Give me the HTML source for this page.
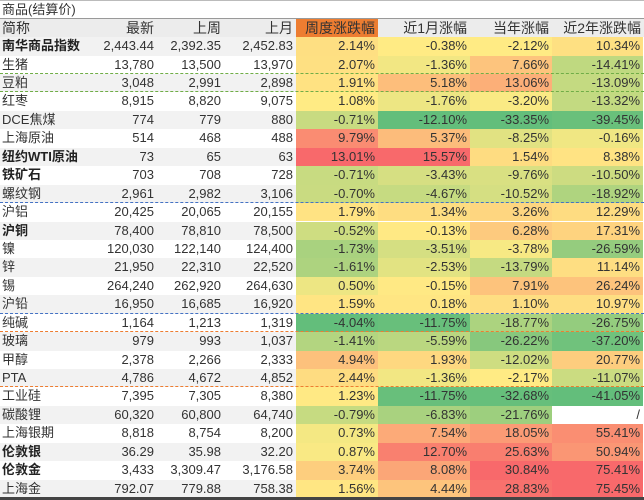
<!DOCTYPE html>
<html><head><meta charset="utf-8">
<style>
html,body{margin:0;padding:0;background:#fff;}
body{width:644px;height:500px;overflow:hidden;position:relative;font-family:"Liberation Sans","Noto Sans CJK SC",sans-serif;color:#333;}
#title{position:absolute;left:0;top:0;width:644px;height:19px;border-top:1px solid #bbb;border-bottom:1px solid #999;font-size:13px;line-height:18px;padding-left:2px;box-sizing:border-box;}
.row{position:absolute;left:0;width:644px;}
.c{position:absolute;top:0;height:100%;box-sizing:border-box;padding-right:3px;text-align:right;white-space:nowrap;font-size:13px;}
.hdr .c{font-size:14px;}
.nm{text-align:left;padding-left:2px;}
.sep{position:absolute;left:0;width:644px;height:0;border-top:1.5px dashed;}
#bottom{position:absolute;left:0;top:497px;width:644px;height:3px;background:#444;}
</style></head><body>
<div id="title">商品(结算价)</div>
<div id="tbl"></div>
<div id="bottom"></div>
<script>
const names=["南华商品指数","生猪","豆粕","红枣","DCE焦煤","上海原油","纽约WTI原油","铁矿石","螺纹钢","沪铝","沪铜","镍","锌","锡","沪铅","纯碱","玻璃","甲醇","PTA","工业硅","碳酸锂","上海银期","伦敦银","伦敦金","上海金"];
const boldRows=[0,6,7,10,22,23];
const latest=["2,443.44","13,780","3,048","8,915","774","514","73","703","2,961","20,425","78,400","120,030","21,950","264,240","16,950","1,164","979","2,378","4,786","7,395","60,320","8,818","36.29","3,433","792.07"];
const lastWeek=["2,392.35","13,500","2,991","8,820","779","468","65","708","2,982","20,065","78,810","122,140","22,310","262,920","16,685","1,213","993","2,266","4,672","7,305","60,800","8,754","35.98","3,309.47","779.88"];
const lastMonth=["2,452.83","13,970","2,898","9,075","880","488","63","728","3,106","20,155","78,500","124,400","22,520","264,630","16,920","1,319","1,037","2,333","4,852","8,380","64,740","8,200","32.20","3,176.58","758.38"];
const weekChg=[2.14,2.07,1.91,1.08,-0.71,9.79,13.01,-0.71,-0.70,1.79,-0.52,-1.73,-1.61,0.50,1.59,-4.04,-1.41,4.94,2.44,1.23,-0.79,0.73,0.87,3.74,1.56];
const monthChg=[-0.38,-1.36,5.18,-1.76,-12.10,5.37,15.57,-3.43,-4.67,1.34,-0.13,-3.51,-2.53,-0.15,0.18,-11.75,-5.59,1.93,-1.36,-11.75,-6.83,7.54,12.70,8.08,4.44];
const ytdChg=[-2.12,7.66,13.06,-3.20,-33.35,-8.25,1.54,-9.76,-10.52,3.26,6.28,-3.78,-13.79,7.91,1.10,-18.77,-26.22,-12.02,-2.17,-32.68,-21.76,18.05,25.63,30.84,28.83];
const twoYrChg=[10.34,-14.41,-13.09,-13.32,-39.45,-0.16,8.38,-10.50,-18.92,12.29,17.31,-26.59,11.14,26.24,10.97,-26.75,-37.20,20.77,-11.07,-41.05,null,55.41,50.94,75.41,75.45];
const headers=["简称","最新","上周","上月","周度涨跌幅","近1月涨幅","当年涨幅","近2年涨跌幅"];
const seps=[[1,"#70ad47"],[2,"#70ad47"],[8,"#4472c4"],[14,"#4472c4"],[15,"#ed7d31"],[18,"#ed7d31"]];

const colX=[0,100,157,224,296,378,470,552,644];
const top0=37.2, rh=18.43;
function rowY(i){return top0+i*rh;}
function pct(arr,p){const s=arr.filter(v=>v!=null).slice().sort((a,b)=>a-b);const k=(s.length-1)*p;const f=Math.floor(k);return s[f]+(s[Math.min(f+1,s.length-1)]-s[f])*(k-f);}
function mix(a,b,t){return a.map((v,i)=>Math.round(v+(b[i]-v)*t));}
const G=[99,190,123],Y=[255,235,132],R=[248,105,107];
function scale(arr){const mn=pct(arr,0),md=pct(arr,0.5),mx=pct(arr,1);
 return v=>{if(v==null)return "#fff";let c;if(v<=md)c=mix(G,Y,(v-mn)/(md-mn||1));else c=mix(Y,R,(v-md)/(mx-md||1));return `rgb(${c})`;};}
const heat=[weekChg,monthChg,ytdChg,twoYrChg];
const scales=heat.map(scale);
const tbl=document.getElementById('tbl');

const hr=document.createElement('div');
hr.className='row hdr';


hr.style.top='19px';hr.style.height='18.2px';hr.style.background='#ececec';hr.style.lineHeight='18.2px';
headers.forEach((h,j)=>{const d=document.createElement('div');d.className='c'+(j==0?' nm':'');
 
 
 d.style.left=colX[j]+'px';d.style.width=(colX[j+1]-colX[j])+'px';d.textContent=h;
 if(j==4){d.style.background='#ed7d31';}
 hr.appendChild(d);});
tbl.appendChild(hr);

names.forEach((n,i)=>{
 const r=document.createElement('div');r.className='row';
 
 
 r.style.top=rowY(i)+'px';r.style.height=rh+'px';r.style.lineHeight=rh+'px';
 const bg=i%2==0?'#f2f2f2':'#fff';
 const vals=[n,latest[i],lastWeek[i],lastMonth[i]];
 vals.forEach((v,j)=>{const d=document.createElement('div');d.className='c'+(j==0?' nm':'');
  
  
  d.style.left=colX[j]+'px';d.style.width=(colX[j+1]-colX[j])+'px';d.style.background=bg;
  if(j==0&&boldRows.includes(i)){d.style.fontWeight='bold';d.style.color='#222';}
  d.textContent=v;r.appendChild(d);});
 heat.forEach((arr,k)=>{const j=k+4;const v=arr[i];const d=document.createElement('div');d.className='c';
  
  
  d.style.left=colX[j]+'px';d.style.width=(colX[j+1]-colX[j]-(j==7?1:0))+'px';d.style.background=scales[k](v);
  d.textContent=v==null?'/':v.toFixed(2)+'%';r.appendChild(d);});
 tbl.appendChild(r);
});
seps.forEach(([i,c])=>{const s=document.createElement('div');s.className='sep';
 
 
 s.style.top=(rowY(i+1)-1)+'px';s.style.borderTopColor=c;tbl.appendChild(s);});
</script>
</body></html>
